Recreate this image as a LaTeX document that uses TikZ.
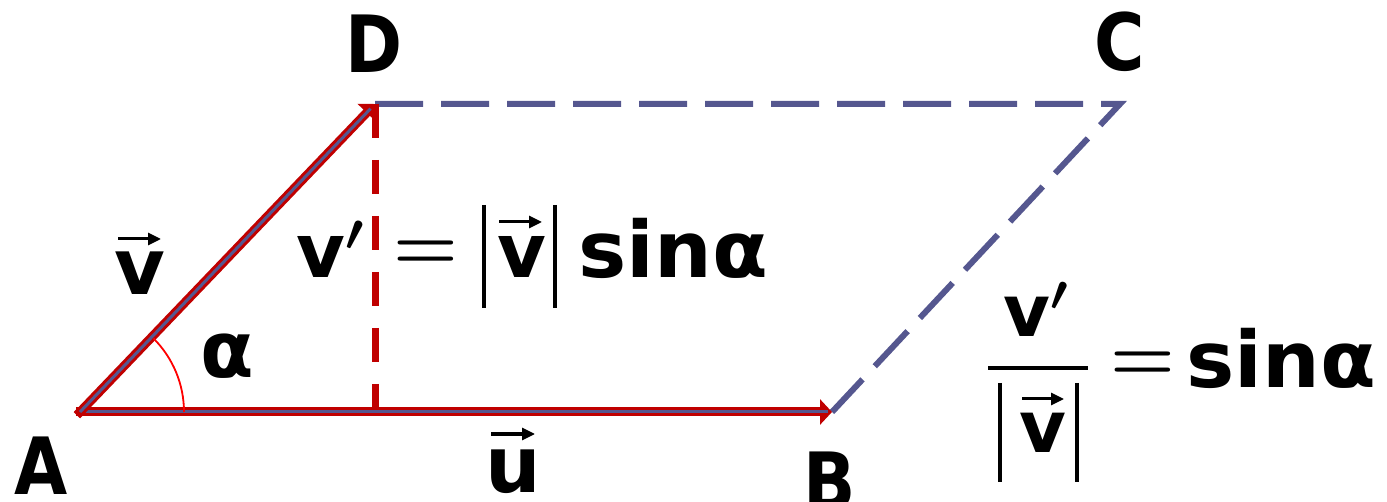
\RequirePackage{fix-cm}
\documentclass[tikz,border=0pt]{standalone}
\usepackage{fontspec}
\setmainfont{DejaVu Sans}
\newfontfamily\capfont{DejaVu Sans}[FakeStretch=0.87]
\newfontfamily\sinfont{DejaVu Sans}[FakeStretch=1.04]
\usetikzlibrary{arrows.meta,calc}
\definecolor{vred}{HTML}{C00000}
\definecolor{vblue}{HTML}{55578F}
\definecolor{arcred}{HTML}{FF0000}
\begin{document}
\begin{tikzpicture}[x=1pt,y=-1pt,
  lbl/.style={font=\fontsize{78}{90}\selectfont\bfseries,inner sep=0pt},
  ptlbl/.style={font=\capfont\fontsize{79}{90}\selectfont\bfseries,inner sep=0pt},
  eqf/.style={font=\fontsize{75}{90}\selectfont\bfseries\boldmath,inner sep=0pt},
  sinf/.style={font=\sinfont\fontsize{78}{90}\selectfont\bfseries,inner sep=0pt},
  eqs/.style={font=\fontsize{74}{90}\selectfont\boldmath,inner sep=0pt},
  fqf/.style={font=\fontsize{72}{86}\selectfont\bfseries\boldmath,inner sep=0pt},
  redvec/.style={draw=vred,line width=9pt,line cap=rect,-{Triangle[length=12pt,width=25pt,fill=vred]}},
  bluecore/.style={draw=vblue,line width=3pt},
  reddash/.style={draw=vred,line width=7pt,dash pattern=on 34pt off 22pt},
  bluedash/.style={draw=vblue,line width=6pt,dash pattern=on 48pt off 18pt},
  vecarr/.style={draw=black,line width=3pt,-{Triangle[length=13pt,width=12pt]}},
  bar/.style={draw=black,line width=3.5pt}]
\useasboundingbox (0,0) rectangle (1387,502);
% points
\coordinate (A) at (80,412);
\coordinate (B) at (832,412);
\coordinate (D) at (375,104);
\coordinate (C) at (1120,104);
\coordinate (H) at (375,414);
% dashed sides
\draw[bluedash] (D) -- (C) -- (B);
\draw[reddash] (D) -- (H);
% vectors
\draw[redvec] (A) -- (B);
\draw[bluecore] (A) -- ([xshift=-4]B);
\draw[redvec] (A) -- (D);
\draw[bluecore] (A) -- ($(A)!0.985!(D)$);
% angle arc
\draw[arcred,line width=1.8pt] ([shift={(0:104)}]A) arc[start angle=0,end angle=-45,radius=104];
% point labels
\node[ptlbl,anchor=base] (labA) at (41,494) {A};
\node[ptlbl,anchor=base] (labB) at (830,509) {B};
\node[ptlbl,anchor=base] (labD) at (374,73) {D};
\node[ptlbl,anchor=base] (labC) at (1120,71) {C};
% vector labels
\node[lbl,anchor=base] (labv) at (140,295) {v};
\draw[vecarr] ([shift={(-22,-56)}]labv.base) -- ++(43,0);
\node[lbl,anchor=base] (labu) at (513,492) {u};
\draw[vecarr] ([shift={(-22,-58)}]labu.base) -- ++(44,0);
\node[lbl,anchor=base] (labal) at (227,378) {α};
% equation 1
\node[eqf,anchor=base west] (e1v) at (296,278) {v$'$};
\node[eqs] (e1eq) at (426,255) {$=$};
\draw[bar] (484,205) -- (484,308);
\draw[bar] (555,205) -- (555,308);
\node[eqf,anchor=base] (e1vv) at (522,278) {v};
\draw[vecarr] ([shift={(-23,-56)}]e1vv.base) -- ++(43,0);
\node[sinf,anchor=base west] (e1sin) at (578,278) {sinα};
% equation 2
\node[fqf,anchor=base west] (e2num) at (1003,337) {v$'$};
\draw[bar,line width=4pt] (988,368) -- (1088,368);
\draw[bar] (1000,383) -- (1000,482);
\draw[bar] (1077,383) -- (1077,482);
\node[fqf,anchor=base] (e2vv) at (1043,453) {v};
\draw[vecarr] ([shift={(-21,-54)}]e2vv.base) -- ++(42,0);
\node[eqs] (e2eq) at (1143,366) {$=$};
\node[sinf,anchor=base west] (e2sin) at (1186,388) {sinα};
\end{tikzpicture}
\end{document}
